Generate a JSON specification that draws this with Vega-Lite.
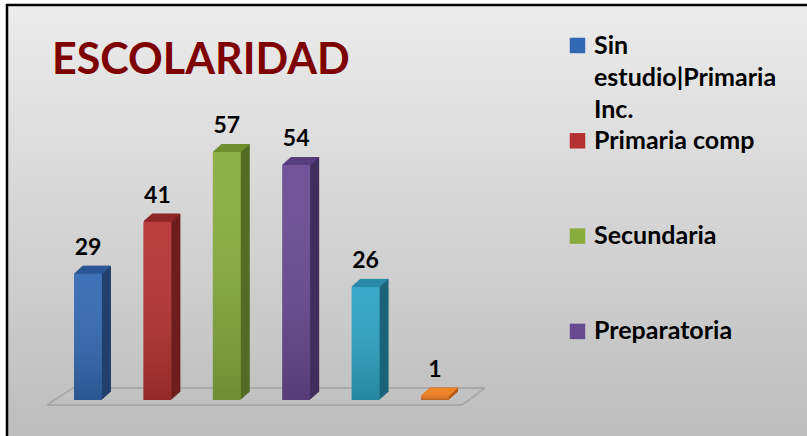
{
  "$schema": "https://vega.github.io/schema/vega-lite/v6.json",
  "width": 800,
  "height": 431,
  "autosize": {"type": "none"},
  "padding": {"left": 7, "top": 5, "right": 0, "bottom": 0},
  "background": "white",
  "view": {
    "fill": {"gradient": "linear", "x1": 0, "y1": 0, "x2": 0, "y2": 1, "stops": [{"offset": 0, "color": "#ececec"}, {"offset": 1, "color": "#bdbdbd"}]},
    "stroke": "black",
    "strokeWidth": 2.5,
    "strokeDash": [800, 1231, 431, 1]
  },
  "config": {"font": "Lato"},
  "title": {
    "text": "ESCOLARIDAD",
    "anchor": "start",
    "frame": "group",
    "offset": -112,
    "dx": 45,
    "baseline": "alphabetic",
    "font": "Lato",
    "fontSize": 43,
    "fontWeight": "bold",
    "color": "#7f0000"
  },
  "data": {
    "values": [
      {"nivel": "Sin estudio|Primaria Inc.", "n": 29},
      {"nivel": "Primaria comp", "n": 41},
      {"nivel": "Secundaria", "n": 57},
      {"nivel": "Preparatoria", "n": 54},
      {"nivel": "Licenciatura", "n": 26},
      {"nivel": "Posgrado", "n": 1}
    ]
  },
  "encoding": {
    "x": {
      "field": "nivel", "type": "nominal", "axis": null,
      "scale": {"domain": ["Sin estudio|Primaria Inc.", "Primaria comp", "Secundaria", "Preparatoria", "Licenciatura", "Posgrado"], "range": [67, 442], "paddingInner": 0.597, "paddingOuter": 0}
    },
    "y": {"field": "n", "type": "quantitative", "axis": null, "scale": {"domain": [0, 90.8], "range": [395, 0], "nice": false, "zero": false}}
  },
  "layer": [
    {"transform": [{"filter": "datum.n == 29"}], "mark": {"type": "rule", "color": "#a8a8a8", "strokeWidth": 2, "xOffset": -41, "x2Offset": 27, "yOffset": 5, "y2Offset": 5},
     "encoding": {"x": {"datum": "Sin estudio|Primaria Inc."}, "x2": {"datum": "Posgrado"}, "y": {"datum": 0}, "y2": {"datum": 0}}},
    {"transform": [{"filter": "datum.n == 29"}], "mark": {"type": "rule", "color": "#a8a8a8", "strokeWidth": 2, "xOffset": -15, "x2Offset": 50, "yOffset": -12, "y2Offset": -12},
     "encoding": {"x": {"datum": "Sin estudio|Primaria Inc."}, "x2": {"datum": "Posgrado"}, "y": {"datum": 0}, "y2": {"datum": 0}}},
    {"transform": [{"filter": "datum.n == 29"}], "mark": {"type": "rule", "color": "#a8a8a8", "strokeWidth": 2, "xOffset": -41, "x2Offset": -15, "yOffset": 5, "y2Offset": -12},
     "encoding": {"x": {"datum": "Sin estudio|Primaria Inc."}, "x2": {"datum": "Sin estudio|Primaria Inc."}, "y": {"datum": 0}, "y2": {"datum": 0}}},
    {"transform": [{"filter": "datum.n == 29"}], "mark": {"type": "rule", "color": "#a8a8a8", "strokeWidth": 2, "xOffset": 27, "x2Offset": 50, "yOffset": 5, "y2Offset": -12},
     "encoding": {"x": {"datum": "Posgrado"}, "x2": {"datum": "Posgrado"}, "y": {"datum": 0}, "y2": {"datum": 0}}},
    {
      "encoding": {"color": {"field": "nivel", "type": "nominal", "legend": null, "scale": {"domain": ["Sin estudio|Primaria Inc.", "Primaria comp", "Secundaria", "Preparatoria", "Licenciatura", "Posgrado"], "range": ["#213f6b", "#6d1d1d", "#536b24", "#3f2d5c", "#1b6478", "#b45a14"]}}},
      "layer": [
        {"mark": {"type": "bar", "xOffset": 1, "yOffset": -0.889, "y2Offset": -0.889}},
        {"mark": {"type": "bar", "xOffset": 2, "yOffset": -1.778, "y2Offset": -1.778}},
        {"mark": {"type": "bar", "xOffset": 3, "yOffset": -2.667, "y2Offset": -2.667}},
        {"mark": {"type": "bar", "xOffset": 4, "yOffset": -3.556, "y2Offset": -3.556}},
        {"mark": {"type": "bar", "xOffset": 5, "yOffset": -4.444, "y2Offset": -4.444}},
        {"mark": {"type": "bar", "xOffset": 6, "yOffset": -5.333, "y2Offset": -5.333}},
        {"mark": {"type": "bar", "xOffset": 7, "yOffset": -6.222, "y2Offset": -6.222}},
        {"mark": {"type": "bar", "xOffset": 8, "yOffset": -7.111, "y2Offset": -7.111}},
        {"mark": {"type": "bar", "xOffset": 9, "yOffset": -8, "y2Offset": -8}}
      ]
    },
    {
      "encoding": {
        "y2": {"field": "n"},
        "color": {"field": "nivel", "type": "nominal", "legend": null, "scale": {"domain": ["Sin estudio|Primaria Inc.", "Primaria comp", "Secundaria", "Preparatoria", "Licenciatura", "Posgrado"], "range": ["#2b5796", "#8e2727", "#6f8f30", "#573e7c", "#2a8aa6", "#f0852a"]}}
      },
      "layer": [
        {"mark": {"type": "bar", "xOffset": 0.56, "yOffset": -1.3, "y2Offset": 0.3}},
        {"mark": {"type": "bar", "xOffset": 1.69, "yOffset": -2.3, "y2Offset": -0.7}},
        {"mark": {"type": "bar", "xOffset": 2.81, "yOffset": -3.3, "y2Offset": -1.7}},
        {"mark": {"type": "bar", "xOffset": 3.94, "yOffset": -4.3, "y2Offset": -2.7}},
        {"mark": {"type": "bar", "xOffset": 5.06, "yOffset": -5.3, "y2Offset": -3.7}},
        {"mark": {"type": "bar", "xOffset": 6.19, "yOffset": -6.3, "y2Offset": -4.7}},
        {"mark": {"type": "bar", "xOffset": 7.31, "yOffset": -7.3, "y2Offset": -5.7}},
        {"mark": {"type": "bar", "xOffset": 8.44, "yOffset": -8.0, "y2Offset": -6.7}}
      ]
    },
    {
      "mark": {"type": "bar"},
      "encoding": {
        "color": {
          "field": "nivel", "type": "nominal",
          "scale": {"domain": ["Sin estudio|Primaria Inc.", "Primaria comp", "Secundaria", "Preparatoria", "Licenciatura", "Posgrado"], "range": ["#3368b2", "#b53232", "#88ad3d", "#684a91", "#2da3c3", "#e2731d"]},
          "legend": {
            "orient": "none", "legendX": 558, "legendY": 28, "padding": 0,
            "values": ["Sin estudio|Primaria Inc.", "Primaria comp", "Secundaria", "Preparatoria"],
            "title": null, "symbolType": "square", "symbolSize": 240, "symbolStrokeWidth": 0,
            "labelFont": "Lato", "labelFontSize": 25, "labelFontWeight": "bold", "labelColor": "black",
            "labelLimit": 400, "labelOffset": 4, "rowPadding": 5.3,
            "labelExpr": "datum.value == 'Sin estudio|Primaria Inc.' ? ['Sin', 'estudio|Primaria', 'Inc.'] : [datum.label, '', '']",
            "encode": {"labels": {"update": {"lineHeight": {"value": 32}}}}
          }
        }
      }
    },
    {
      "mark": {"type": "bar", "color": {"gradient": "linear", "x1": 0, "y1": 0, "x2": 0, "y2": 1, "stops": [{"offset": 0, "color": "rgba(255,255,255,0.06)"}, {"offset": 1, "color": "rgba(0,0,0,0.18)"}]}}
    },
    {
      "mark": {"type": "text", "font": "Lato", "fontSize": 23, "fontWeight": "bold", "color": "black", "baseline": "alphabetic", "dy": -19},
      "encoding": {"text": {"field": "n", "type": "quantitative"}}
    }
  ],
  "resolve": {"scale": {"color": "independent"}}
}
